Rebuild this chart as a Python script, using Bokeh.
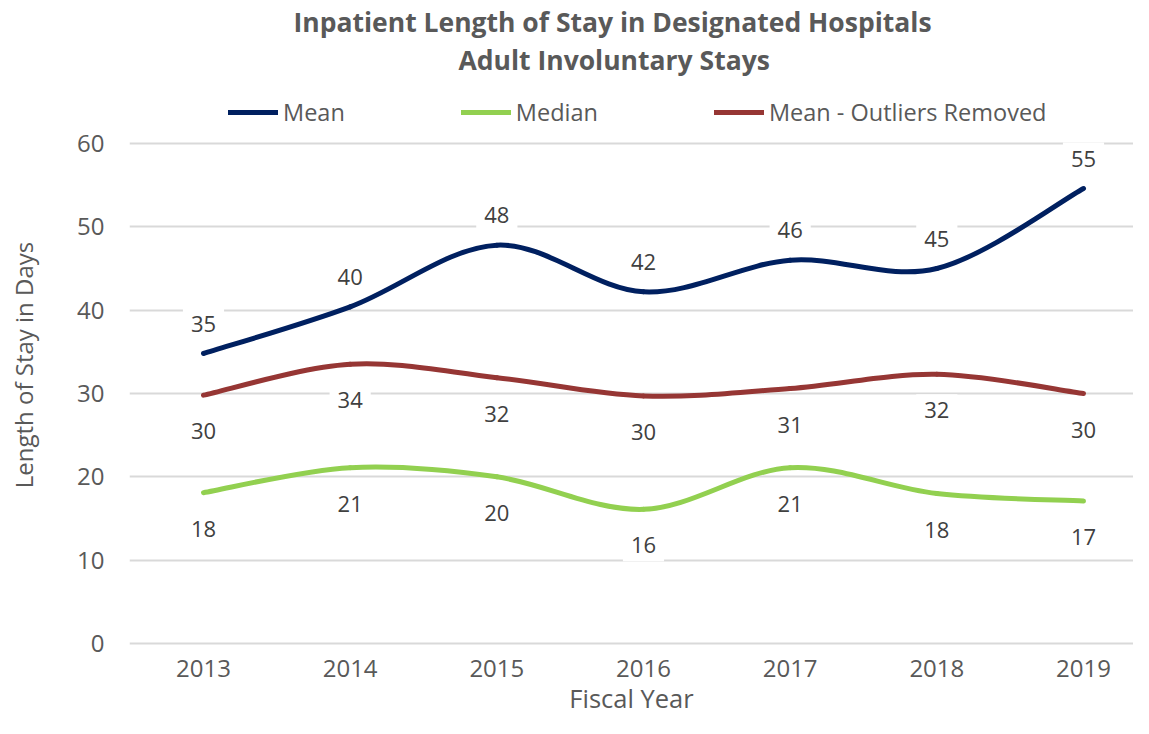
from bokeh.plotting import figure
from bokeh.models import (ColumnDataSource, Legend, LegendItem, Title,
                          FixedTicker, Range1d)
from bokeh.core.properties import value
from bokeh.embed import file_html
from bokeh.resources import INLINE

years = [2013, 2014, 2015, 2016, 2017, 2018, 2019]
mean_vals = [34.8, 40.4, 47.8, 42.2, 46.0, 45.0, 54.6]
median_vals = [18.1, 21.1, 20.0, 16.1, 21.1, 18.0, 17.1]
mean_no_outliers = [29.8, 33.5, 31.9, 29.7, 30.6, 32.3, 30.0]

series_names = ["Mean", "Median", "Mean - Outliers Removed"]
series_colors = ["#002060", "#92D050", "#963634"]
y_ticks = [0, 10, 20, 30, 40, 50, 60]

FONT = "Open Sans"
GRAY = "#595959"

p = figure(width=1133, height=718, output_backend="svg", toolbar_location=None,
           x_range=Range1d(2012.4955, 2019.341),
           y_range=Range1d(-1.08, 67.92),
           min_border_left=129, min_border_right=0, min_border_top=77,
           min_border_bottom=66)
p.outline_line_color = None
p.background_fill_color = "white"

# titles (first added sits nearest the plot)
t2 = Title(text="Adult Involuntary Stays", align="left", offset=329,
           text_font=FONT, text_font_size="26.5px", text_font_style="bold",
           text_color=GRAY, standoff=0)
t1 = Title(text="Inpatient Length of Stay in Designated Hospitals", align="left",
           offset=164, text_font=FONT, text_font_size="26.5px",
           text_font_style="bold", text_color=GRAY, standoff=0)
p.add_layout(t2, "above")
p.add_layout(t1, "above")

# axes
p.xaxis.ticker = FixedTicker(ticks=years)
p.yaxis.ticker = FixedTicker(ticks=y_ticks)
for ax in (p.xaxis[0], p.yaxis[0]):
    ax.axis_line_color = None
    ax.major_tick_line_color = None
    ax.minor_tick_line_color = None
    ax.major_tick_out = 0
    ax.major_tick_in = 0
    ax.major_label_text_font = FONT
    ax.major_label_text_font_size = "24px"
    ax.major_label_text_color = GRAY
    ax.axis_label_text_font = FONT
    ax.axis_label_text_color = GRAY
    ax.axis_label_text_font_style = "normal"
p.xaxis.axis_label = "Fiscal Year"
p.yaxis.axis_label = "Length of Stay in Days"
p.xaxis.axis_label_text_font_size = "25.5px"
p.yaxis.axis_label_text_font_size = "24px"
p.yaxis.major_label_standoff = 25
p.yaxis.axis_label_standoff = 34
p.xaxis.major_label_standoff = 7
p.xaxis.axis_label_standoff = 1

p.xgrid.grid_line_color = None
p.ygrid.grid_line_color = "#D9D9D9"
p.ygrid.grid_line_width = 2


def smooth_segments(xs, ys):
    n = len(xs)
    d = dict(x0=[], y0=[], x1=[], y1=[], cx0=[], cy0=[], cx1=[], cy1=[])
    for i in range(n - 1):
        a = i - 1 if i > 0 else i
        b = i + 2 if i + 2 < n else i + 1
        d["x0"].append(xs[i]); d["y0"].append(ys[i])
        d["x1"].append(xs[i + 1]); d["y1"].append(ys[i + 1])
        d["cx0"].append(xs[i] + (xs[i + 1] - xs[a]) / 6)
        d["cy0"].append(ys[i] + (ys[i + 1] - ys[a]) / 6)
        d["cx1"].append(xs[i + 1] - (xs[b] - xs[i]) / 6)
        d["cy1"].append(ys[i + 1] - (ys[b] - ys[i]) / 6)
    return ColumnDataSource(d)


all_vals = [mean_vals, median_vals, mean_no_outliers]
offsets = [-30, 36, 36]
items = []
for vals, color, name in zip(all_vals, series_colors, series_names):
    src = smooth_segments(years, vals)
    r = p.bezier(x0="x0", y0="y0", x1="x1", y1="y1", cx0="cx0", cy0="cy0",
                 cx1="cx1", cy1="cy1", source=src, line_color=color,
                 line_width=5, line_cap="round")
    items.append(LegendItem(label=name, renderers=[r], index=0))

# data labels
for vals, off in zip(all_vals, offsets):
    lsrc = ColumnDataSource(dict(x=years, y=vals,
                                 t=[str(int(round(v))) for v in vals]))
    p.text(x="x", y="y", text="t", source=lsrc, y_offset=off,
           text_align="center", text_baseline="middle",
           text_font=value(FONT), text_font_size="22px", text_color="#404040",
           background_fill_color="white", padding=8)

legend = Legend(items=items, orientation="horizontal", location=(99, 524),
                glyph_width=50, glyph_height=24, label_height=24,
                label_standoff=5, spacing=116, padding=0, margin=0,
                border_line_color=None, background_fill_alpha=0,
                label_text_font=FONT, label_text_font_size="23.5px",
                label_text_color=GRAY)
p.add_layout(legend)

open("out.html", "w").write(file_html(p, INLINE))
